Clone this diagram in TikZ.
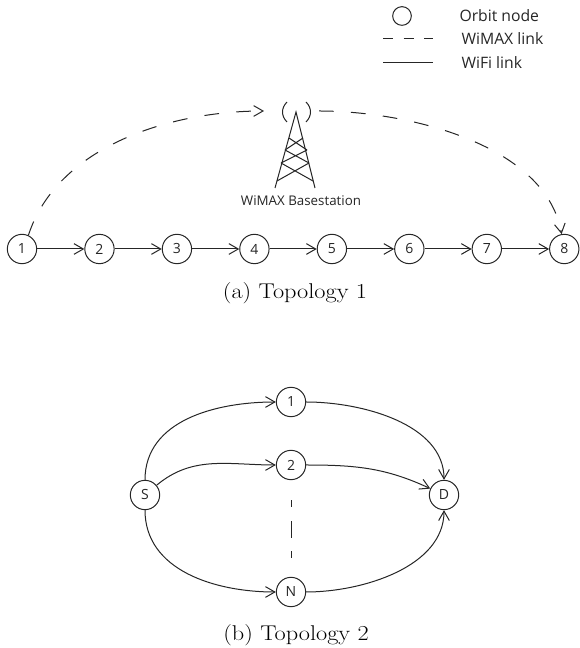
\documentclass[tikz,border=0pt]{standalone}
\usepackage{fontspec}
\setsansfont{Open Sans}
\usetikzlibrary{positioning,arrows.meta}

\begin{document}
\begin{tikzpicture}[x=0.75pt,y=0.75pt,node distance=58.1pt,line width=0.75pt,color=black!85,
	orbit/.style={shape=circle,draw,minimum size=22pt,inner sep=0pt,font=\sffamily\fontsize{10.5}{12}\selectfont},
	legendtext/.style={anchor=west,inner sep=0pt,font=\sffamily\fontsize{11.8}{14}\selectfont},
	wifi/.style={-{Straight Barb[length=7pt,width=8pt]}},
	wimax/.style={-{Straight Barb[length=7pt,width=8pt]},dash pattern=on 11pt off 13pt},
	caption/.style={text=black,xscale=1.14,transform shape,font=\fontsize{16}{18}\selectfont}]
	\useasboundingbox (0,0) rectangle (580,648);

	% legend
	\node (legendnode) at (402,632) [orbit,minimum size=14pt] {};
	\coordinate (dashfrom) at (383,609);
	\coordinate (dashto) at (433,609);
	\coordinate (solidfrom) at (383,585);
	\coordinate (solidto) at (433,585);
	\draw [dash pattern=on 7.5pt off 8pt] (dashfrom) -- (dashto);
	\draw (solidfrom) -- (solidto);
	\node (legendorbit) at (459,632) [legendtext] {Orbit node};
	\node (legendwimax) at (461,609) [legendtext] {WiMAX link};
	\node (legendwifi) at (461,585) [legendtext] {WiFi link};

	% topology 1
	\node (n1) at (22,399) [orbit] {1};
	\node (n2) [right of=n1,orbit] {2};
	\node (n3) [right of=n2,orbit] {3};
	\node (n4) [right of=n3,orbit] {4};
	\node (n5) [right of=n4,orbit] {5};
	\node (n6) [right of=n5,orbit] {6};
	\node (n7) [right of=n6,orbit] {7};
	\node (n8) [right of=n7,orbit] {8};

	\draw [wifi] (n1) -- (n2);
	\draw [wifi] (n2) -- (n3);
	\draw [wifi] (n3) -- (n4);
	\draw [wifi] (n4) -- (n5);
	\draw [wifi] (n5) -- (n6);
	\draw [wifi] (n6) -- (n7);
	\draw [wifi] (n7) -- (n8);

	% basestation
	\coordinate (apex) at (296,536);
	\coordinate (baseleft) at (275,460);
	\coordinate (baseright) at (315,460);
	\coordinate (bsin) at (264,537);
	\coordinate (bsout) at (319,537);
	\draw (baseleft) -- (apex) -- (baseright);
	\draw (289,510) -- (307,498) (303,510) -- (285,498);
	\draw (285,498) -- (309,485) (307,498) -- (281,485);
	\draw (281,485) -- (313,467) (309,485) -- (277,467);
	\draw (287,546) .. controls (281,540) and (281,532) .. (287,526);
	\draw (306,546) .. controls (312,540) and (312,532) .. (306,526);
	\node (bslabel) at (301,447) [font=\sffamily\fontsize{10}{12}\selectfont] {WiMAX Basestation};

	\draw [wimax] (n1.65) to[out=72,in=180,looseness=0.9] (bsin);
	\draw [wimax] (bsout) to[out=0,in=100,looseness=0.85] (n8);

	\node (captiona) at (295,355) [caption] {(a) Topology 1};

	% topology 2
	\node (s) at (145,153) [orbit] {S};
	\node (a) at (291,246) [orbit] {1};
	\node (b) at (291,183) [orbit] {2};
	\node (c) at (291,56) [orbit] {N};
	\node (d) at (444,153) [orbit] {D};

	\draw [wifi] (s.north) to[out=90,in=180] (a);
	\draw [wifi] (s.40) to[out=40,in=180] (b);
	\draw [wifi] (s.south) to[out=-90,in=180] (c);
	\draw [wifi] (a) to[out=0,in=90,looseness=0.9] (d.north);
	\draw [wifi] (b) to[out=0,in=155] (d);
	\draw [wifi] (c) to[out=0,in=-90,looseness=0.9] (d.south);
	\draw [shorten <=15pt,shorten >=12pt,dash pattern=on 5pt off 11pt on 12.5pt off 10pt] (b) -- (c);

	\node (captionb) at (296,13) [caption] {(b) Topology 2};
\end{tikzpicture}
\end{document}
